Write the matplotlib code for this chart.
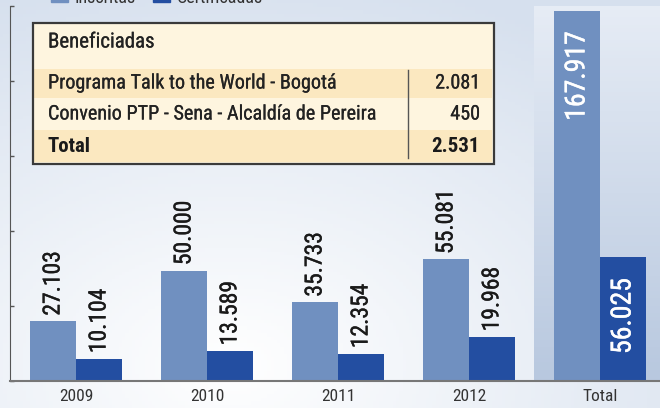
import numpy as np
import matplotlib
matplotlib.use("Agg")
import matplotlib.pyplot as plt
from matplotlib.patches import Rectangle
from matplotlib import font_manager
import matplotlib.patheffects as pe

# ---------------- data ----------------
categories = ["2009", "2010", "2011", "2012", "Total"]
inscritas = [27103, 50000, 35733, 55081, 167917]
certificadas = [10104, 13589, 12354, 19968, 56025]
inscritas_lbl = ["27.103", "50.000", "35.733", "55.081", "167.917"]
certificadas_lbl = ["10.104", "13.589", "12.354", "19.968", "56.025"]
legend_labels = ["Inscritas", "Certificadas"]
table_title = "Beneficiadas"
table_rows = ["Programa Talk to the World - Bogotá", "Convenio PTP - Sena - Alcaldía de Pereira"]
table_vals = ["2.081", "450"]
table_total = ["Total", "2.531"]

# fonts
avail = {f.name for f in font_manager.fontManager.ttflist}
NARROW = [f for f in ["Liberation Sans Narrow", "Roboto Condensed", "Liberation Sans", "DejaVu Sans"] if f in avail]
plt.rcParams['font.family'] = NARROW

C_LIGHT = "#7090c0"
C_DARK = "#234ea1"

W, H = 660, 408
fig = plt.figure(figsize=(W / 100, H / 100), dpi=100)

def fx(x):
    return x / W

def fy(y):
    return 1 - y / H

def thick(color, lw=0.5):
    return [pe.withStroke(linewidth=lw, foreground=color)]

# background gradient
bg = fig.add_axes([0, 0, 1, 1], zorder=-10)
xx = np.linspace(0, 1, 200)
yy = np.linspace(0, 1, 120)
X, Y = np.meshgrid(xx, yy)
d = np.sqrt(((X - 0.35) / 0.9) ** 2 + ((Y - 0.9) / 1.0) ** 2)
d = np.clip(d, 0, 1)
c0 = np.array([1.0, 1.0, 1.0])
c1 = np.array([0xd6, 0xe0, 0xee]) / 255
img = c0[None, None, :] * (1 - d[..., None]) + c1[None, None, :] * d[..., None]
bg.imshow(img, extent=[0, 1, 0, 1], aspect='auto', origin='upper')
bg.set_axis_off()

# main axes
ax = fig.add_axes([fx(10), 27 / H, 650 / W, 375 / H])
ax.patch.set_alpha(0)
x = np.arange(len(categories))
bw = 46 / 131

# total band gradient
band = np.linspace(0, 1, 100)[:, None]
top = np.array([0xe6, 0xec, 0xf5]) / 255
bot = np.array([0xb8, 0xc8, 0xdf]) / 255
bimg = top[None, None, :] * (1 - band[..., None]) + bot[None, None, :] * band[..., None]
bimg = np.repeat(bimg, 2, axis=1)
ax.imshow(bimg, extent=[4 - 66 / 131, 5.5, 0, 170000], aspect='auto', origin='upper', zorder=0)
ax.set_xlim(-66 / 131, (660 - 76) / 131)
ax.set_ylim(0, 170000)

ax.bar(x - bw / 2, inscritas, bw, color=C_LIGHT, zorder=2)
ax.bar(x + bw / 2, certificadas, bw, color=C_DARK, zorder=2)

for i in range(len(categories)):
    pairs = [(x[i] - bw / 2, inscritas[i], inscritas_lbl[i]),
             (x[i] + bw / 2, certificadas[i], certificadas_lbl[i])]
    for xp, v, lbl in pairs:
        if categories[i] == "Total":
            ax.annotate(lbl, (xp, v), xytext=(0, -15),
                        textcoords='offset points', rotation=90, ha='center', va='top',
                        fontsize=20, color='white', zorder=3,
                        path_effects=thick('white', 0.3))
        else:
            ax.annotate(lbl, (xp, v), xytext=(0, 4),
                        textcoords='offset points', rotation=90, ha='center', va='bottom',
                        fontsize=17, color='#1a1a1a', zorder=3,
                        path_effects=thick('#1a1a1a', 0.25))

ax.set_xticks(x)
ax.set_xticklabels(categories, fontsize=12.5, color='#333333')
ax.tick_params(axis='x', length=0, pad=6)
ax.set_yticks(np.arange(0, 170001, 34000))
ax.set_yticklabels([])
ax.tick_params(axis='y', direction='in', length=3, color='#555555', width=1)
for s in ['top', 'right']:
    ax.spines[s].set_visible(False)
ax.spines['left'].set_color('#555555')
ax.spines['bottom'].set_color('#777777')
ax.spines['bottom'].set_linewidth(1.5)

# legend (cut off at top, as in the reference)
fig.patches.append(Rectangle((fx(51), fy(2)), 17 / W, 10 / H, transform=fig.transFigure,
                             color=C_LIGHT, zorder=5))
fig.patches.append(Rectangle((fx(153), fy(2)), 17 / W, 10 / H, transform=fig.transFigure,
                             color=C_DARK, zorder=5))
fig.text(fx(75), fy(3), legend_labels[0], fontsize=13, color='#333333', va='baseline', ha='left')
fig.text(fx(177), fy(3), legend_labels[1], fontsize=13, color='#333333', va='baseline', ha='left')

# table
def rect(x0, y0, x1, y1, **kw):
    r = Rectangle((fx(x0), fy(y1)), (x1 - x0) / W, (y1 - y0) / H, transform=fig.transFigure, **kw)
    fig.patches.append(r)

rect(33, 23, 494, 164, facecolor='#fef5df', edgecolor='none', zorder=6)
rect(33, 69, 492, 98, facecolor='#fbe8c0', edgecolor='none', zorder=6)
rect(33, 130, 492, 162, facecolor='#fbe8c0', edgecolor='none', zorder=6)
rect(33, 23, 494, 164, facecolor='none', edgecolor='#3a3a3a', linewidth=1.6, zorder=7)
fig.add_artist(plt.Line2D([fx(408), fx(408)], [fy(70), fy(158)], transform=fig.transFigure,
                          color='#555555', linewidth=1, zorder=7))

txtc = '#222222'
fig.text(fx(48), fy(42), table_title, fontsize=15, color=txtc, va='center', ha='left', zorder=8,
         path_effects=thick(txtc, 0.15))
rows_y = [83, 114]
for lbl, val, yy_ in zip(table_rows, table_vals, rows_y):
    fig.text(fx(48), fy(yy_), lbl, fontsize=14.5, color=txtc, va='center', ha='left', zorder=8,
             path_effects=thick(txtc, 0.15))
    fig.text(fx(480), fy(yy_), val, fontsize=14.5, color=txtc, va='center', ha='right', zorder=8,
             path_effects=thick(txtc, 0.15))
fig.text(fx(48), fy(146), table_total[0], fontsize=15, fontweight='bold', color='#1a1a1a',
         va='center', ha='left', zorder=8)
fig.text(fx(480), fy(146), table_total[1], fontsize=15, fontweight='bold', color='#1a1a1a',
         va='center', ha='right', zorder=8)

fig.savefig("out.png", dpi=100)
